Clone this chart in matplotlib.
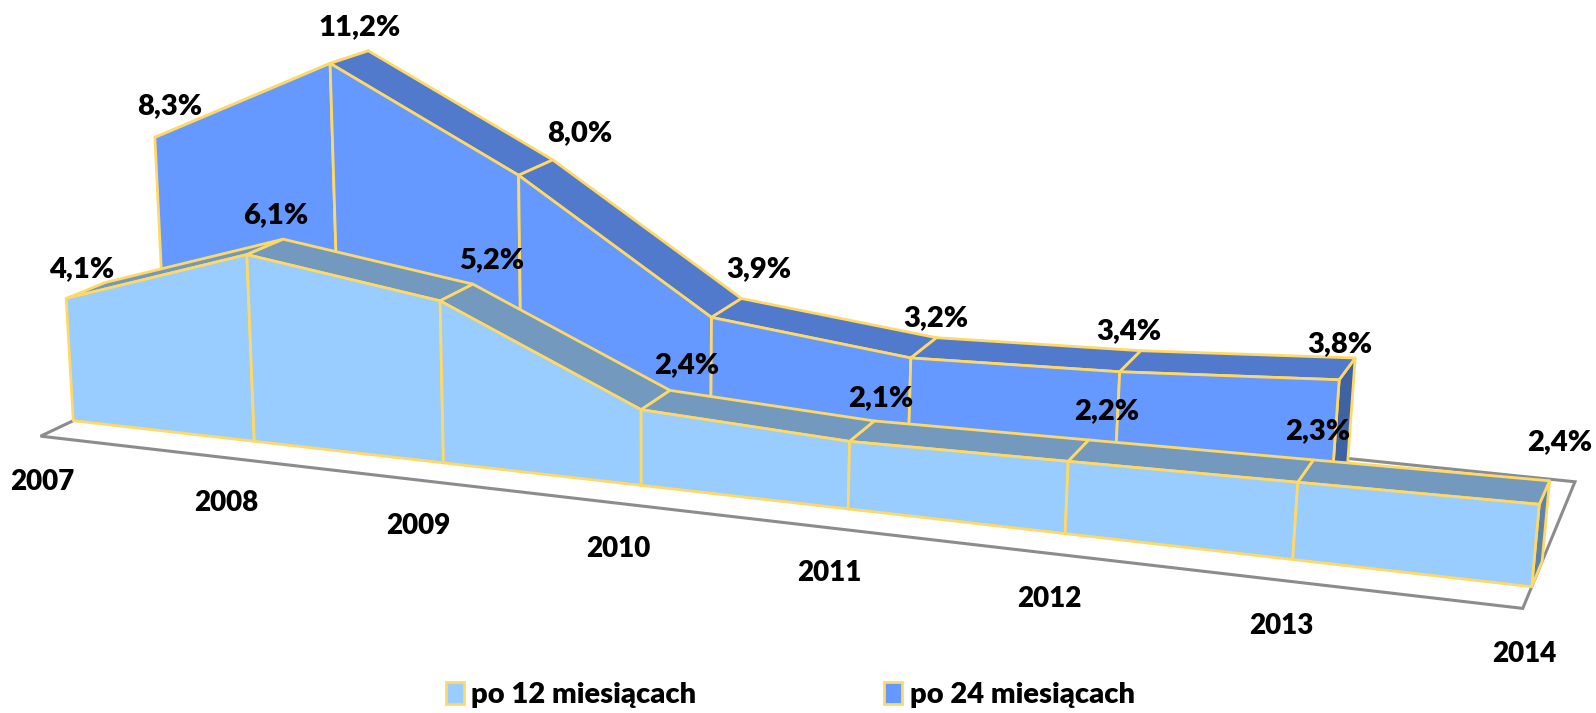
import numpy as np
import matplotlib
matplotlib.use('Agg')
import matplotlib.pyplot as plt
from matplotlib.patches import Polygon, Patch

years = ['2007', '2008', '2009', '2010', '2011', '2012', '2013', '2014']
after_12 = [4.1, 6.1, 5.2, 2.4, 2.1, 2.2, 2.3, 2.4]
after_24 = [8.3, 11.2, 8.0, 3.9, 3.2, 3.4, 3.8]

# pixel nudges for the value labels, relative to the back edge of each ridge
nudge_12 = [(-23, -13), (-7, -24), (18, -24), (16, -25), (6, -22), (18, -28), (4, -28), (10, -38)]
nudge_24 = [(-26, -17), (-9, -23), (26, -26), (17, -29), (-1, -19), (-12, -19), (-15, -14)]

YELLOW = '#FFD966'
plt.rcParams['font.family'] = ['Lato', 'DejaVu Sans']

# camera: (year index, depth, value) -> screen
CAM_X = [72.0, 172.5, 40.0, -1.9]
CAM_Y = [413.0, 10.97, -9.7, -30.15]
CAM_W = [1.0, -0.02139, 0.02066, -0.003]


def project(i, d, z):
    v = np.array([1.0, i, d, z])
    w = np.dot(CAM_W, v)
    return np.dot(CAM_X, v) / w, np.dot(CAM_Y, v) / w


def poly(ax, corners, color, zorder, lw=2.0):
    pts = [project(*c) for c in corners]
    ax.add_patch(Polygon(pts, closed=True, facecolor=color, edgecolor=YELLOW,
                         linewidth=lw, joinstyle='round', zorder=zorder))


def draw_series(ax, values, d0, d1, face, ridge, cap, zorder):
    n = len(values)
    # end cap first, then the ridge and the front
    poly(ax, [(n - 1, d0, values[-1]), (n - 1, d1, values[-1]),
              (n - 1, d1, 0), (n - 1, d0, 0)], cap, zorder)
    for k in range(n - 1):
        poly(ax, [(k, d0, values[k]), (k, d1, values[k]),
                  (k + 1, d1, values[k + 1]), (k + 1, d0, values[k + 1])], ridge, zorder)
    for k in range(n - 1):
        poly(ax, [(k, d0, values[k]), (k + 1, d0, values[k + 1]),
                  (k + 1, d0, 0), (k, d0, 0)], face, zorder)


fig = plt.figure(figsize=(15.96, 7.13), dpi=100)
ax = fig.add_axes([0, 0, 1, 1])
ax.set_xlim(0, 1568)
ax.set_ylim(700, 0)
ax.axis('off')

# floor
floor = [(0, -0.82, 0), (7.0, -0.82, 0), (7.0, 4.5, 0), (0, 4.5, 0)]
ax.add_patch(Polygon([project(*c) for c in floor], closed=True, facecolor='none',
                     edgecolor='#8C8C8C', linewidth=2.2, zorder=1))

draw_series(ax, after_24, 2.5, 3.65, '#6699FF', '#527ACC', '#3F62A3', 2)
draw_series(ax, after_12, 0.0, 1.0, '#99CCFF', '#7399BF', '#5F82A8', 3)

lab = dict(fontsize=21, fontweight='heavy', color='black', ha='center', va='center', zorder=5)
for k, v in enumerate(after_24):
    x, y = project(k, 3.65, v)
    ax.text(x + nudge_24[k][0], y + nudge_24[k][1], f'{v:.1f}%'.replace('.', ','), **lab)
for k, v in enumerate(after_12):
    x, y = project(k, 1.0, v)
    ax.text(x + nudge_12[k][0], y + nudge_12[k][1], f'{v:.1f}%'.replace('.', ','), **lab)

# year labels hang under the front edge of the floor
for k, year in enumerate(years):
    x, y = project(k, -0.82, 0)
    ax.text(x + 2, y + 45, year, **{**lab, 'fontsize': 20})

handles = [Patch(facecolor='#99CCFF', edgecolor=YELLOW, linewidth=2, label='po 12 miesiącach'),
           Patch(facecolor='#6699FF', edgecolor=YELLOW, linewidth=2, label='po 24 miesiącach')]
ax.legend(handles=handles, loc='lower center', bbox_to_anchor=(0.495, -0.03), ncol=2, frameon=False,
          prop=dict(size=21, weight='heavy'), handlelength=0.62, handleheight=0.8,
          handletextpad=0.25, columnspacing=6.45)

plt.savefig('out.png', dpi=100)
